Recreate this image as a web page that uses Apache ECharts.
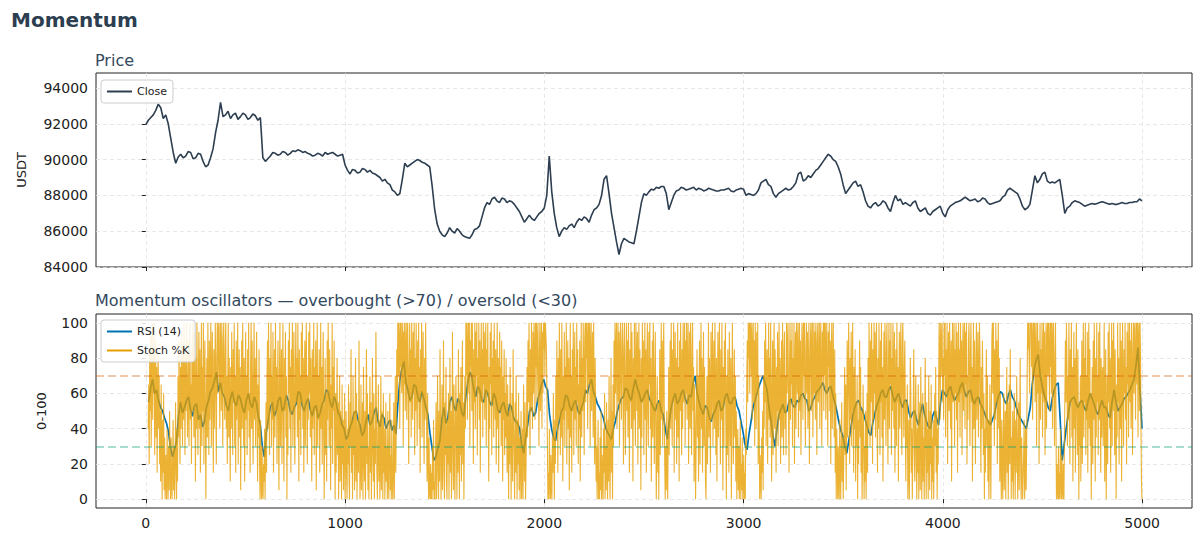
<!DOCTYPE html>
<html><head><meta charset="utf-8">
<script src="https://cdn.jsdelivr.net/npm/echarts@6/dist/echarts.min.js"></script>
<style>html,body{margin:0;padding:0;background:#fff}#c{width:1203px;height:544px}</style>
</head><body><div id="c"></div>
<script>
// ---- data (read / estimated from the reference picture) ----
const PRICE_FIRST = 0, PRICE_LAST = 4999;
const closePrice = [
91950,92200,92350,92500,92750,93100,92900,92300,92500,92000,91200,90400,89800,90150,90300,90100,90200,90450,90400,90050,
90100,90350,90300,89900,89600,89700,90100,90600,91500,92200,93200,92400,92500,92700,92300,92500,92600,92250,92400,92600,
92500,92250,92350,92550,92450,92200,92350,90100,89900,90050,90200,90400,90350,90250,90300,90450,90400,90250,90350,90500,
90450,90550,90500,90400,90450,90350,90300,90200,90250,90350,90300,90200,90400,90300,90350,90400,90300,90200,90250,90300,
89700,89400,89200,89450,89400,89250,89300,89500,89450,89300,89400,89250,89200,89100,89000,88800,88900,88700,88600,88300,
88200,88000,88100,88900,89800,89600,89700,89800,89900,90000,89950,89850,89800,89700,89600,88500,87200,86400,86000,85800,
85700,85900,86200,86000,85900,86150,86000,85800,85700,85650,85600,85800,86100,86150,86300,86800,87300,87600,87500,87800,
87900,87700,87600,87850,87800,87600,87700,87650,87500,87300,87100,86800,86500,86700,86900,86700,86600,86800,87000,87100,
87300,88000,90200,88200,87000,86200,85700,86000,86200,86100,86300,86400,86200,86500,86700,86600,86800,86700,86500,86900,
87200,87300,87500,88000,88900,89100,88100,87000,86200,85400,84700,85300,85600,85500,85400,85350,85300,86000,86800,87600,
88100,88000,88200,88350,88300,88450,88400,88500,88500,88100,87200,87600,88000,88250,88300,88450,88400,88300,88350,88400,
88450,88300,88400,88350,88250,88300,88400,88350,88300,88250,88250,88300,88300,88350,88400,88250,88200,88300,88350,88400,
88350,88000,88100,88050,88000,88100,88300,88700,88800,88900,88600,88500,88100,87900,88100,88200,88300,88400,88300,88350,
88500,88700,89200,89300,88800,88900,89100,89000,89200,89400,89500,89700,89900,90100,90300,90200,90000,89900,89600,89200,
88600,88100,88300,88500,88700,88800,88500,88600,88200,87700,87400,87300,87500,87600,87400,87500,87700,87600,87300,87100,
87600,88000,87700,87800,87500,87600,87500,87400,87600,87700,87300,87100,87200,87300,87000,86900,87100,87200,87300,87400,
87000,86800,87200,87400,87500,87600,87650,87700,87800,87900,87800,87700,87750,87800,87650,87700,87850,87800,87600,87500,
87550,87600,87650,87700,87900,88000,88300,88400,88300,88200,88100,87800,87400,87200,87300,87500,88300,89100,88700,88900,
89200,89300,88800,88700,88750,88700,88800,88900,88000,87000,87300,87400,87600,87700,87650,87600,87500,87400,87450,87500,
87550,87500,87550,87600,87650,87600,87550,87500,87550,87500,87500,87550,87600,87550,87550,87600,87600,87650,87650,87800,
87700];
const RSI_FIRST = 14, RSI_LAST = 4999;
const rsi14 = [
55,63,68,60,62,56,52,50,46,43,38,29,24,28,33,47,55,49,52,56,58,51,47,53,54,45,48,41,44,52,56,61,63,67,72,61,66,60,58,53,
50,57,61,55,53,59,57,52,49,56,60,54,52,58,55,47,42,30,24,38,45,52,55,47,50,56,58,50,52,59,56,50,48,52,54,61,60,53,50,55,
57,51,47,52,53,46,49,54,56,62,61,55,52,58,55,49,47,42,40,34,36,41,44,49,50,45,42,36,38,44,48,42,44,49,52,44,41,48,46,40,
43,45,39,42,37,55,68,74,78,66,62,56,58,65,64,58,55,61,57,52,48,38,30,22,24,29,33,45,52,43,46,55,58,53,50,57,55,49,47,58,
66,72,70,62,58,64,62,56,55,62,60,55,53,60,57,51,49,53,55,50,47,54,52,46,44,43,40,31,26,35,42,50,52,47,49,56,60,65,68,64,
62,48,40,35,33,40,45,50,52,59,58,53,50,54,56,51,48,52,55,62,60,65,68,61,58,54,52,49,46,41,38,36,34,40,44,50,54,57,58,63,
62,58,56,63,68,63,60,55,57,60,62,57,55,52,50,54,56,50,48,40,34,44,52,57,60,54,56,60,62,57,54,59,58,66,70,60,55,51,48,53,
52,47,44,48,50,54,56,50,52,58,60,55,54,57,58,53,50,44,38,31,28,37,44,52,56,60,64,67,70,66,62,52,45,36,30,40,48,51,54,49,
50,55,57,53,52,56,55,59,60,57,56,50,52,56,58,61,62,64,66,62,60,63,64,59,55,50,44,39,36,30,26,33,40,47,52,55,56,52,50,46,
42,38,36,43,48,53,56,60,62,58,58,62,64,59,55,58,60,55,52,56,56,50,46,49,50,45,42,49,54,48,44,41,40,47,50,46,42,55,62,60,
58,62,64,59,56,58,60,64,66,61,58,61,62,57,54,57,58,54,52,49,46,44,42,45,48,54,58,61,60,56,54,59,62,58,56,52,48,46,44,42,
40,46,52,65,74,79,82,70,64,59,56,52,50,57,62,65,66,45,22,31,40,48,55,57,58,54,52,55,56,52,50,56,60,57,54,50,48,53,56,52,
52,48,46,55,62,55,50,52,54,57,58,60,62,65,68,76,86,62,40];
const STOCH_FIRST = 12, STOCH_LAST = 4999;
const stochK = [
40,65,20,85,50,95,30,70,100,45,80,60,100,25,55,90,35,75,15,60,85,40,70,20,50,10,65,30,0,45,15,60,5,35,0,25,10,0,40,15,
0,30,5,50,20,0,35,10,0,20,45,5,30,0,15,55,25,0,40,10,70,35,90,50,20,75,40,95,60,30,85,45,100,65,25,80,50,100,70,35,
55,90,30,75,100,45,65,20,85,50,100,70,35,95,60,10,80,40,100,55,25,70,95,40,85,15,60,100,30,75,50,100,20,65,90,45,0,55,80,35,
100,60,25,90,45,75,100,30,65,95,50,15,85,40,70,100,55,20,80,100,60,95,100,70,40,100,85,50,100,75,30,90,100,60,45,85,100,40,70,20,
65,100,35,80,50,10,75,40,95,60,25,85,55,100,30,70,15,90,45,65,100,20,60,85,35,75,5,50,90,40,100,65,30,80,10,55,95,45,70,25,
85,50,100,35,60,15,75,100,40,90,55,20,70,100,45,80,30,60,95,50,10,65,35,85,20,0,45,15,0,30,5,0,20,10,40,0,25,55,15,70,
90,40,100,60,25,80,55,100,30,70,45,95,15,65,85,35,100,50,75,20,60,90,40,5,70,100,30,55,85,20,65,100,45,10,80,50,95,35,70,0,
55,25,90,60,100,40,75,15,85,50,100,30,65,95,45,20,70,100,55,80,35,100,60,10,85,45,70,25,95,55,100,40,80,15,60,90,30,75,100,50,
20,70,45,95,60,100,35,80,55,10,85,40,65,100,25,75,50,90,5,60,100,30,70,45,85,15,55,100,40,75,20,65,95,35,0,50,80,25,60,10,
90,45,100,70,30,85,55,5,65,40,100,20,75,50,90,35,0,60,15,45,80,25,55,0,40,70,10,50,30,0,65,20,45,5,35,60,0,25,50,15,
0,40,20,65,10,0,55,30,85,15,45,0,70,25,50,5,35,80,10,60,0,30,45,15,90,40,0,20,65,5,35,55,0,75,25,10,50,0,40,85,
20,60,5,30,0,45,70,15,55,0,25,80,35,10,60,0,40,20,95,50,15,0,35,65,10,45,0,25,70,5,50,30,0,60,15,40,0,20,55,10,
30,0,50,15,0,35,60,5,25,0,45,10,0,20,55,0,30,70,15,40,85,55,100,70,100,90,40,100,75,100,60,85,100,30,95,65,100,50,80,100,
45,90,100,60,20,75,100,55,85,35,100,70,45,95,60,100,25,80,50,100,65,30,90,55,100,40,75,15,85,60,100,35,70,95,50,20,80,45,100,65,
40,10,60,25,0,35,5,0,20,0,15,0,30,5,45,0,10,0,25,55,0,15,70,30,0,50,10,85,40,0,20,65,5,35,90,15,0,55,25,75,
10,0,45,20,60,0,35,80,15,50,0,25,95,40,5,65,20,0,45,70,30,0,55,15,85,35,0,60,25,75,10,45,90,20,55,0,35,70,40,100,
70,100,45,85,100,60,100,30,90,75,100,50,100,65,20,85,55,100,40,95,70,100,25,80,60,100,45,90,15,70,100,55,85,35,100,65,95,45,75,100,
30,85,60,100,50,10,75,40,95,65,100,25,80,55,90,35,100,70,45,85,20,60,100,40,80,15,65,95,50,75,30,90,55,10,70,45,85,25,60,35,
80,40,15,65,30,0,50,20,75,45,0,35,60,10,85,40,25,0,55,15,70,30,0,45,20,60,5,35,0,25,50,0,15,40,0,65,30,10,55,0,
20,45,75,35,90,55,100,65,25,85,50,100,70,40,95,60,100,80,45,100,75,100,55,90,100,65,30,85,100,50,75,100,40,95,60,100,85,100,70,100,
100,85,60,30,0,15,0,40,10,0,25,5,0,35,15,60,30,0,45,20,70,40,90,55,15,80,45,100,65,25,85,35,100,60,10,70,45,95,30,75,
50,100,20,65,90,40,80,5,55,100,35,70,15,85,50,100,25,60,95,45,75,30,100,55,85,20,65,40,90,10,60,100,35,80,50,100,70,25,90,100,
55,100,80,100,40,90,100,65,100,30,85,100,50,75,95,35,100,60,20,80,45,10,30,0,20,45,0,15,0,35,5,50,0,25,10,0,40,15,60,0,
30,5,55,20,0,45,10,70,25,0,35,80,15,50,0,65,30,90,45,100,60,85,100,40,75,100,55,95,30,80,100,65,45,90,100,70,20,85,100,50,
25,75,100,50,90,35,100,70,15,85,55,100,40,95,65,10,80,45,100,60,30,100,75,50,95,20,70,100,40,85,60,5,80,35,100,55,90,25,65,100,
45,85,15,70,100,50,30,95,65,100,40,80,10,55,90,35,100,75,20,60,95,45,0,30,70,15,55,0,40,85,25,60,100,45,90,30,75,100,55,20,
0,30,5,50,15,0,40,75,25,60,90,40,100,70,30,85,55,100,15,65,95,45,80,20,60,100,35,75,10,90,50,100,65,25,85,40,100,55,75,100,
30,90,60,100,45,80,100,20,70,95,40,100,60,25,85,100,50,75,10,65,45,0,25,60,85,35,70,10,50,90,20,65,100,40,80,15,55,95,30,75,
50,10,0,40,70,20,55,100,35,80,60,15,95,45,75,100,30,65,90,40,100,55,25,80,10,60,95,35,70,100,50,20,85,45,100,65,5,75,30,90,
55,100,40,0,70,25,85,50,15,95,60,30,80,0,45,100,65,20,55,85,35,70,10,50,0,25,40,5,30,0,15,45,0,20,5,35,0,10,25,0,
15,0,40,25,65,90,55,100,80,100,60,100,95,70,100,45,85,100,55,90,30,100,75,40,95,60,100,20,70,45,0,25,10,0,35,15,50,5,70,40,
90,55,100,30,75,85,20,60,100,45,80,35,100,65,10,55,90,25,70,100,40,85,60,15,75,50,95,30,65,100,45,80,20,55,90,35,100,60,25,85,
95,40,70,25,100,60,85,100,50,15,75,100,45,90,65,100,30,80,55,100,20,70,95,40,100,85,60,100,35,75,100,50,90,25,65,100,80,45,100,70,
100,55,30,85,100,60,95,40,75,100,20,65,90,100,50,85,100,35,70,100,60,95,45,100,80,25,90,100,55,75,100,40,85,100,65,30,95,70,100,50,
100,70,100,45,85,100,60,30,95,75,100,50,90,20,80,100,40,70,100,55,35,85,15,60,0,40,20,0,30,5,0,45,15,0,25,55,10,35,0,20,
50,75,25,65,5,45,90,35,70,100,60,20,80,45,95,30,65,100,50,15,75,40,85,10,55,30,70,0,45,20,60,90,35,75,15,50,0,25,65,40,
0,30,10,50,0,25,60,15,80,40,100,65,30,90,55,100,75,20,85,45,100,60,95,35,70,100,50,15,80,40,100,65,25,90,55,100,35,75,10,60,
95,45,100,70,30,85,100,55,20,75,100,40,90,65,100,25,80,50,100,70,40,95,15,60,85,30,100,55,75,10,65,95,40,80,100,50,25,90,100,60,
35,75,90,40,10,55,30,65,0,20,45,0,35,80,60,15,40,0,25,55,85,30,10,50,70,20,0,40,15,65,0,30,55,5,75,45,0,20,60,10,
35,0,45,80,25,0,55,15,40,0,70,30,5,50,20,65,0,35,10,45,0,25,60,30,75,15,50,0,40,20,65,100,85,45,100,70,90,100,55,80,
45,100,70,100,35,85,60,100,20,75,95,50,100,65,40,90,10,80,100,55,70,100,30,85,60,100,45,95,15,70,100,55,85,35,100,60,90,25,75,100,
50,80,100,40,95,65,100,20,70,45,90,100,60,30,85,100,55,75,10,65,100,40,90,55,20,80,100,45,70,95,35,60,100,85,50,15,75,40,90,65,
25,60,0,40,15,55,85,30,70,10,45,0,20,65,35,0,50,90,100,60,100,75,30,85,45,100,55,90,20,70,100,40,80,10,60,25,0,45,15,0,
35,60,5,25,50,0,40,75,15,55,0,30,65,20,85,45,0,35,10,50,0,20,60,30,0,45,15,70,35,0,25,55,5,40,80,20,0,35,15,0,
0,25,45,0,15,40,5,30,70,100,85,100,100,60,100,95,100,75,100,45,90,100,70,100,55,85,100,30,75,100,60,90,20,70,100,45,85,60,100,35,
80,100,55,95,25,65,100,40,90,100,70,100,85,50,100,75,100,60,100,40,90,100,65,30,80,100,45,0,20,5,0,30,0,15,0,40,10,0,25,5,
0,20,0,35,60,90,55,100,80,30,70,45,100,65,20,85,55,100,35,75,10,60,95,40,80,15,65,100,50,25,85,40,0,55,30,70,10,45,90,20,
60,100,35,80,55,100,25,70,45,95,15,65,100,40,85,30,60,0,50,75,20,90,45,100,65,10,80,35,100,55,70,25,95,45,100,60,15,80,35,70,
75,30,55,100,10,45,85,0,35,70,20,95,55,100,40,80,15,60,100,30,90,50,100,70,25,85,45,0,65,35,100,55,80,20,60,100,40,90,10,70,
100,55,30,85,60,100,45,75,20,95,65,100,35,80,100,55,90,40,100,70,25,85,100,60,95,100,45,80,100,65,100,35,90,100,50,100,85,40,10,0];
const xTicks = [0,1000,2000,3000,4000,5000];
const priceTicks = [84000,86000,88000,90000,92000,94000];
const oscTicks = [0,20,40,60,80,100];
const overbought = 70, oversold = 30;

// ---- build: spread each sampled series evenly over its index range ----
function pairs(first, last, arr){
  const step = (last - first) / (arr.length - 1);
  return arr.map((v,k)=>[first + k*step, v]);
}
const FONT = 'DejaVu Sans';
const chart = echarts.init(document.getElementById('c'), null, {renderer:'svg'});
const plain = v => String(v);

function xAxisCfg(gi, showLabels){
  return {
    type:'value', gridIndex:gi, min:-250, max:5250,
    axisLine:{show:false},
    axisTick:{show:true, customValues:xTicks, length:4, lineStyle:{color:'#222', width:1}},
    axisLabel:{show:showLabels, customValues:xTicks, formatter:plain, margin:8, color:'#222', fontSize:14, fontFamily:FONT},
    splitLine:{show:true, lineStyle:{color:'#e2e2e2', width:0.8, type:[4,3]}}
  };
}
function yAxisCfg(gi, min, max, ticks, name, gap){
  return {
    type:'value', gridIndex:gi, min:min, max:max,
    name:name, nameLocation:'middle', nameGap:gap, nameRotate:90,
    nameTextStyle:{color:'#222', fontSize:13, fontFamily:FONT},
    axisLine:{show:false},
    axisTick:{show:true, customValues:ticks, length:4, lineStyle:{color:'#222', width:1}},
    axisLabel:{customValues:ticks, formatter:plain, margin:8, color:'#222', fontSize:14, fontFamily:FONT},
    splitLine:{show:true, lineStyle:{color:'#e2e2e2', width:0.8, type:[4,3]}}
  };
}
const legendBase = {
  orient:'vertical', icon:'rect', itemWidth:25, itemHeight:2, itemGap:8,
  backgroundColor:'rgba(255,255,255,0.85)', borderColor:'#cccccc', borderWidth:1, borderRadius:3,
  padding:[6,6,6,6],
  textStyle:{color:'#222', fontSize:11, fontFamily:FONT}
};

chart.setOption({
  animation:false,
  backgroundColor:'#ffffff',
  textStyle:{fontFamily:FONT},
  title:[
    {text:'Momentum', left:11, top:10, padding:0, textStyle:{fontSize:20, fontWeight:'bold', color:'#2c3e50', fontFamily:FONT}},
    {text:'Price', left:95, top:52, padding:0, textStyle:{fontSize:16, fontWeight:'normal', color:'#34495e', fontFamily:FONT}},
    {text:'Momentum oscillators \u2014 overbought (>70) / oversold (<30)', left:95, top:292, padding:0, textStyle:{fontSize:16, fontWeight:'normal', color:'#34495e', fontFamily:FONT}}
  ],
  legend:[
    Object.assign({}, legendBase, {data:['Close'], left:101, top:80}),
    Object.assign({}, legendBase, {data:['RSI (14)','Stoch %K'], left:101, top:320})
  ],
  grid:[
    {left:96, top:73, width:1096, height:194, show:true, borderColor:'#222', borderWidth:1, backgroundColor:'transparent'},
    {left:96, top:314, width:1096, height:194, show:true, borderColor:'#222', borderWidth:1, backgroundColor:'transparent'}
  ],
  xAxis:[xAxisCfg(0,false), xAxisCfg(1,true)],
  yAxis:[
    yAxisCfg(0, 84000, 94840, priceTicks, 'USDT', 68),
    yAxisCfg(1, -5, 105, oscTicks, '0-100', 48)
  ],
  series:[
    {name:'Close', type:'line', xAxisIndex:0, yAxisIndex:0, data:pairs(PRICE_FIRST, PRICE_LAST, closePrice),
     showSymbol:false, symbol:'none', color:'#2c3e50', lineStyle:{color:'#2c3e50', width:1.6}},
    {name:'RSI (14)', type:'line', xAxisIndex:1, yAxisIndex:1, data:pairs(RSI_FIRST, RSI_LAST, rsi14),
     showSymbol:false, symbol:'none', color:'#0072B2', lineStyle:{color:'#0072B2', width:1.7}},
    {name:'Stoch %K', type:'line', xAxisIndex:1, yAxisIndex:1, data:pairs(STOCH_FIRST, STOCH_LAST, stochK),
     showSymbol:false, symbol:'none',
     color:'#E69F00', lineStyle:{color:'#E69F00', width:1.1, opacity:0.8},
     markLine:{silent:true, symbol:'none', label:{show:false},
       data:[
         {yAxis:overbought, lineStyle:{color:'#D55E00', width:1.8, type:[8,4], opacity:0.35}},
         {yAxis:oversold, lineStyle:{color:'#009E73', width:1.8, type:[8,4], opacity:0.35}}
       ]}}
  ]
});
</script></body></html>
